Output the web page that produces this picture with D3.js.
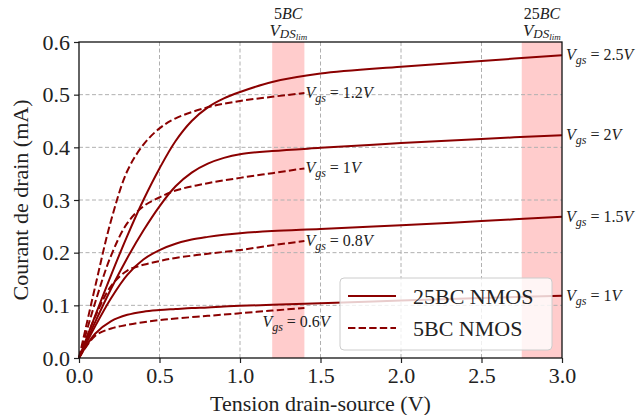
<!DOCTYPE html>
<html>
<head>
<meta charset="utf-8">
<script src="https://cdn.jsdelivr.net/npm/d3@7"></script>
<style>
  body { margin: 0; background: #fff; }
  svg { font-family: "Liberation Serif", "DejaVu Serif", serif; }
</style>
</head>
<body>
<svg width="644" height="415"></svg>
<script>
// Données
const xTicks = [0, 0.5, 1.0, 1.5, 2.0, 2.5, 3.0]
const yTicks = [0, 0.1, 0.2, 0.3, 0.4, 0.5, 0.6]

// 25BC NMOS (trait plein), Vds -> Id (mA)
const bc25Vgs = ['2.5', '2', '1.5', '1']
const bc25Vds = [0, 0.1, 0.2, 0.3, 0.4, 0.5, 0.6, 0.7, 0.8, 0.9, 1.0, 1.2, 1.5, 2.0, 2.5, 3.0]
const bc25Vgs25 = [0, 0.08, 0.158, 0.232, 0.300, 0.360, 0.412, 0.450, 0.476, 0.493, 0.505, 0.524, 0.540, 0.553, 0.564, 0.575]
const bc25Vgs20 = [0, 0.068, 0.132, 0.190, 0.242, 0.288, 0.326, 0.352, 0.369, 0.380, 0.387, 0.393, 0.399, 0.408, 0.416, 0.423]
const bc25Vgs15 = [0, 0.060, 0.114, 0.158, 0.187, 0.205, 0.217, 0.225, 0.230, 0.234, 0.237, 0.241, 0.245, 0.252, 0.260, 0.268]
const bc25Vgs10 = [0, 0.046, 0.070, 0.082, 0.088, 0.091, 0.093, 0.095, 0.096, 0.098, 0.099, 0.101, 0.104, 0.109, 0.114, 0.118]

// 5BC NMOS (pointillés)
const bc5Vgs = ['1.2', '1', '0.8', '0.6']
const bc5Vds = [0, 0.1, 0.2, 0.3, 0.4, 0.5, 0.6, 0.8, 1.0, 1.2, 1.4]
const bc5Vgs12 = [0, 0.135, 0.262, 0.355, 0.405, 0.436, 0.455, 0.476, 0.488, 0.496, 0.503]
const bc5Vgs10 = [0, 0.105, 0.195, 0.256, 0.288, 0.305, 0.318, 0.332, 0.342, 0.351, 0.360]
const bc5Vgs08 = [0, 0.078, 0.137, 0.166, 0.177, 0.184, 0.190, 0.198, 0.205, 0.214, 0.222]
const bc5Vgs06 = [0, 0.042, 0.056, 0.063, 0.068, 0.072, 0.075, 0.080, 0.085, 0.090, 0.095]

// Zones limites V_DS
const limBands = [[1.2, 1.4, '5'], [2.75, 3.0, '25']]

// Dimensions
const marginLeft = 79
const marginTop = 42
const chartWidth = 483
const chartHeight = 316
const red = '#8b0000'

const xScale = d3.scaleLinear([0, 3], [0, chartWidth])
const yScale = d3.scaleLinear([0, 0.6], [chartHeight, 0])

const svg = d3.select('svg')
const g = svg.append('g').attr('transform', `translate(${marginLeft}, ${marginTop})`)

// Bandes roses
g.selectAll('.band')
  .data(limBands)
  .join('rect')
    .attr('x', d => xScale(d[0]))
    .attr('width', d => xScale(d[1]) - xScale(d[0]))
    .attr('y', 0)
    .attr('height', chartHeight)
    .attr('fill', '#ffcccc')

// Grille
g.append('g')
  .selectAll('line')
  .data(xTicks.slice(1, -1))
  .join('line')
    .attr('x1', d => xScale(d)).attr('x2', d => xScale(d))
    .attr('y1', 0).attr('y2', chartHeight)
g.append('g')
  .selectAll('line')
  .data(yTicks.slice(1, -1))
  .join('line')
    .attr('y1', d => yScale(d)).attr('y2', d => yScale(d))
    .attr('x1', 0).attr('x2', chartWidth)
g.selectAll('line')
  .attr('stroke', '#b0b0b0')
  .attr('stroke-width', 1)
  .attr('stroke-dasharray', '4,2.5')

// Courbes
const line = d3.line()
  .x(d => xScale(d[0]))
  .y(d => yScale(d[1]))
  .curve(d3.curveCatmullRom.alpha(0.5))

const solid = [bc25Vgs25, bc25Vgs20, bc25Vgs15, bc25Vgs10].map(s => bc25Vds.map((v, i) => [v, s[i]]))
const dashed = [bc5Vgs12, bc5Vgs10, bc5Vgs08, bc5Vgs06].map(s => bc5Vds.map((v, i) => [v, s[i]]))

g.selectAll('.solid')
  .data(solid)
  .join('path')
    .attr('d', line)
    .attr('fill', 'none')
    .attr('stroke', red)
    .attr('stroke-width', 2)

g.selectAll('.dashed')
  .data(dashed)
  .join('path')
    .attr('d', line)
    .attr('fill', 'none')
    .attr('stroke', red)
    .attr('stroke-width', 2)
    .attr('stroke-dasharray', '7.4,3.2')

// Étiquettes Vgs
function vgsLabel(sel, val) {
  sel.append('tspan').attr('font-style', 'italic').text('V')
  sel.append('tspan').attr('font-style', 'italic').attr('font-size', '12px').attr('dy', 4).text('gs')
  sel.append('tspan').attr('dy', -4).text(` = ${val}`)
  sel.append('tspan').attr('font-style', 'italic').text('V')
}

solid.forEach((s, i) => {
  const last = s[s.length - 1]
  const t = g.append('text')
    .attr('x', xScale(last[0]) + 4)
    .attr('y', yScale(last[1]) + 5)
    .attr('font-size', '16px')
    .attr('fill', '#222')
  vgsLabel(t, bc25Vgs[i])
})

dashed.forEach((s, i) => {
  const last = s[s.length - 1]
  const low = i === 3
  const t = g.append('text')
    .attr('x', low ? xScale(last[0]) - 42 : xScale(last[0]) + 1)
    .attr('y', low ? yScale(last[1]) + 19 : yScale(last[1]) + 5)
    .attr('font-size', '16px')
    .attr('fill', '#222')
  vgsLabel(t, bc5Vgs[i])
})

// Titres des bandes
limBands.forEach(b => {
  const cx = xScale((b[0] + b[1]) / 2)
  const t1 = g.append('text')
    .attr('x', cx).attr('y', -23)
    .attr('text-anchor', 'middle')
    .attr('font-size', '16px')
    .attr('fill', '#222')
  t1.append('tspan').text(b[2])
  t1.append('tspan').attr('font-style', 'italic').text('BC')
  const t2 = g.append('text')
    .attr('x', cx).attr('y', -6)
    .attr('text-anchor', 'middle')
    .attr('font-size', '17px')
    .attr('fill', '#222')
    .attr('font-style', 'italic')
  t2.append('tspan').text('V')
  t2.append('tspan').attr('font-size', '13px').attr('dy', 2).text('DS')
  t2.append('tspan').attr('font-size', '9px').attr('dy', 2).text('lim')
})

// Axes
const xAxis = d3.axisBottom(xScale).tickValues(xTicks).tickFormat(d3.format('.1f')).tickSize(5).tickPadding(4)
const yAxis = d3.axisLeft(yScale).tickValues(yTicks).tickFormat(d3.format('.1f')).tickSize(5).tickPadding(4)

g.append('g')
  .attr('transform', `translate(0, ${chartHeight})`)
  .call(xAxis)
  .call(a => a.select('.domain').remove())
  .selectAll('text').attr('font-size', '22px').attr('font-family', 'Liberation Serif').attr('fill', '#222')

g.append('g')
  .call(yAxis)
  .call(a => a.select('.domain').remove())
  .selectAll('text').attr('font-size', '22px').attr('font-family', 'Liberation Serif').attr('fill', '#222')

g.selectAll('.tick line').attr('stroke', '#222').attr('stroke-width', 1.2)

g.append('rect')
  .attr('width', chartWidth)
  .attr('height', chartHeight)
  .attr('fill', 'none')
  .attr('stroke', '#111')
  .attr('stroke-width', 1.3)

// Légende
const legend = g.append('g').attr('transform', `translate(${340 - marginLeft}, ${278 - marginTop})`)
legend.append('rect')
  .attr('width', 212).attr('height', 72)
  .attr('rx', 4)
  .attr('fill', 'white').attr('fill-opacity', 0.8)
  .attr('stroke', '#cccccc')
const legendItems = [['25BC NMOS', null], ['5BC NMOS', '7.4,3.2']]
legendItems.forEach((d, i) => {
  legend.append('line')
    .attr('x1', 8).attr('x2', 56)
    .attr('y1', 18 + i * 32).attr('y2', 18 + i * 32)
    .attr('stroke', red).attr('stroke-width', 2)
    .attr('stroke-dasharray', d[1])
  legend.append('text')
    .attr('x', 73).attr('y', 26 + i * 32)
    .attr('font-size', '22px')
    .attr('fill', '#222')
    .text(d[0])
})

// Titres des axes
svg.append('text')
  .attr('x', marginLeft + chartWidth / 2)
  .attr('y', 411)
  .attr('text-anchor', 'middle')
  .attr('font-size', '22px')
  .attr('fill', '#222')
  .text('Tension drain-source (V)')

svg.append('text')
  .attr('transform', `translate(28, ${marginTop + chartHeight / 2}) rotate(-90)`)
  .attr('text-anchor', 'middle')
  .attr('font-size', '22px')
  .attr('fill', '#222')
  .text('Courant de drain (mA)')
</script>
</body>
</html>
